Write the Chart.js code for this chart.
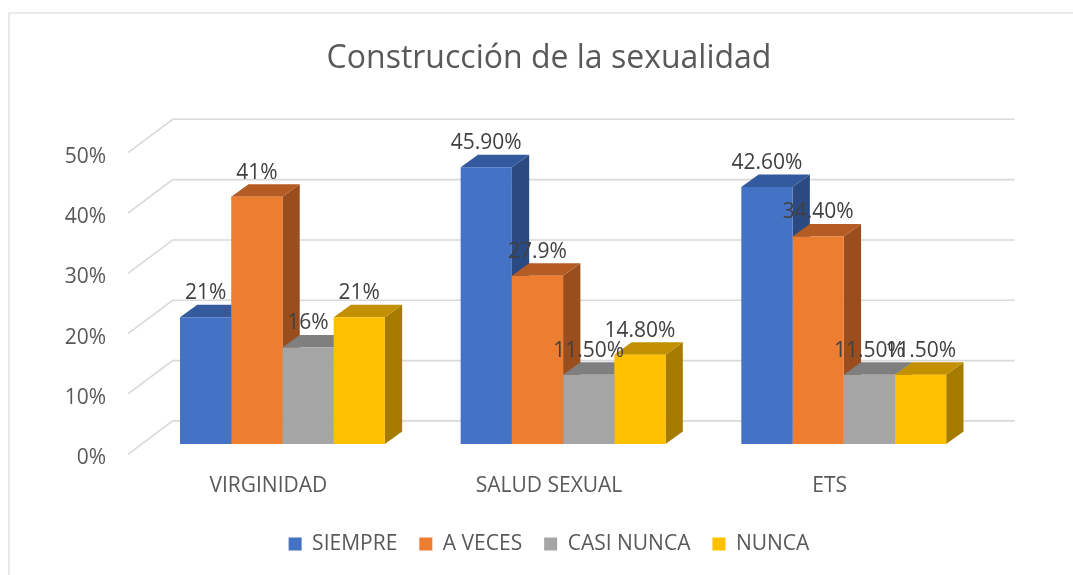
<!DOCTYPE html>
<html><head><meta charset="utf-8">
<script src="https://cdn.jsdelivr.net/npm/chart.js@4.4.1/dist/chart.umd.min.js"></script>
<style>html,body{margin:0;padding:0;background:#fff;}canvas{display:block;}</style>
</head><body>
<canvas id="c" width="1073" height="575"></canvas>
<script>
// ---- data ----
const categories = ['VIRGINIDAD', 'SALUD SEXUAL', 'ETS'];
const seriesNames = ['SIEMPRE', 'A VECES', 'CASI NUNCA', 'NUNCA'];
const siempre   = [21, 45.9, 42.6];
const aVeces    = [41, 27.9, 34.4];
const casiNunca = [16, 11.5, 11.5];
const nunca     = [21, 14.8, 11.5];
const siempreLabels   = ['21%', '45.90%', '42.60%'];
const aVecesLabels    = ['41%', '27.9%', '34.40%'];
const casiNuncaLabels = ['16%', '11.50%', '11.50%'];
const nuncaLabels     = ['21%', '14.80%', '11.50%'];
const yTickLabels = ['0%', '10%', '20%', '30%', '40%', '50%'];

// ---- styles ----
const frontColors = ['#4472C4', '#ED7D31', '#A5A5A5', '#FFC000'];
const topColors   = ['#325A9C', '#B45C24', '#7F7F7F', '#C29000'];
const sideColors  = ['#2C4A82', '#9A4E1E', '#6E6E6E', '#A67C00'];
const FONT = 'Open Sans';
const WALL_DX = 44.7, WALL_DY = -33.4;   // floor depth
const OFF_X = 14.1, OFF_Y = -10.3;       // bar front offset into the floor
const BAR_DX = 17.3, BAR_DY = -12.5;     // bar depth

const seriesValues = [siempre, aVeces, casiNunca, nunca];
const seriesLabels = [siempreLabels, aVecesLabels, casiNuncaLabels, nuncaLabels];

function barRects(chart) {
  const out = [];
  chart.data.datasets.forEach((ds, di) => {
    const meta = chart.getDatasetMeta(di);
    meta.data.forEach((bar, i) => {
      const p = bar.getProps(['x', 'y', 'base', 'width'], true);
      out.push({di, i,
        l: p.x - p.width / 2 + OFF_X, r: p.x + p.width / 2 + OFF_X,
        t: p.y + OFF_Y, b: p.base + OFF_Y, cx: p.x + OFF_X});
    });
  });
  out.sort((a, b) => a.l - b.l);   // left to right (painter's order)
  return out;
}

const plugin3d = {
  id: 'bars3d',
  beforeDraw(chart) {
    const ctx = chart.ctx;
    ctx.save();
    ctx.strokeStyle = '#D9D9D9';
    ctx.lineWidth = 1.2;
    ctx.beginPath();
    ctx.moveTo(9, 575); ctx.lineTo(9, 13); ctx.lineTo(1073, 13);
    ctx.stroke();
    ctx.restore();
  },
  beforeDatasetsDraw(chart) {
    const {ctx, chartArea: a, scales: {y}} = chart;
    ctx.save();
    ctx.strokeStyle = '#D9D9D9';
    ctx.lineWidth = 1.6;
    y.ticks.forEach(t => {
      const py = y.getPixelForValue(t.value);
      ctx.beginPath();
      ctx.moveTo(a.left, py);
      ctx.lineTo(a.left + WALL_DX, py + WALL_DY);
      ctx.lineTo(a.right + WALL_DX, py + WALL_DY);
      ctx.stroke();
    });
    barRects(chart).forEach(q => {
      ctx.fillStyle = sideColors[q.di];
      ctx.beginPath();
      ctx.moveTo(q.r, q.t); ctx.lineTo(q.r + BAR_DX, q.t + BAR_DY);
      ctx.lineTo(q.r + BAR_DX, q.b + BAR_DY); ctx.lineTo(q.r, q.b);
      ctx.closePath(); ctx.fill();
      ctx.fillStyle = topColors[q.di];
      ctx.beginPath();
      ctx.moveTo(q.l, q.t); ctx.lineTo(q.l + BAR_DX, q.t + BAR_DY);
      ctx.lineTo(q.r + BAR_DX, q.t + BAR_DY); ctx.lineTo(q.r, q.t);
      ctx.closePath(); ctx.fill();
    });
    ctx.restore();
    ctx.save();
    ctx.translate(OFF_X, OFF_Y);
  },
  afterDatasetsDraw(chart) {
    const ctx = chart.ctx;
    ctx.restore();
    ctx.save();
    ctx.fillStyle = '#404040';
    ctx.font = '21px "' + FONT + '"';
    ctx.textAlign = 'center';
    ctx.textBaseline = 'middle';
    barRects(chart).forEach(q => {
      ctx.fillText(seriesLabels[q.di][q.i], q.cx, q.t - 24);
    });
    ctx.restore();
  }
};

function draw() {
  new Chart(document.getElementById('c'), {
    type: 'bar',
    data: {
      labels: categories,
      datasets: seriesNames.map((name, k) => ({
        label: name,
        data: seriesValues[k],
        backgroundColor: frontColors[k],
        borderWidth: 0,
        categoryPercentage: 0.73,
        barPercentage: 1,
        clip: false
      }))
    },
    options: {
      responsive: false,
      animation: false,
      events: [],
      layout: {padding: {left: 0, right: 103, top: 0, bottom: 10.5}},
      plugins: {
        title: {
          display: true, fullSize: false, text: 'Construcción de la sexualidad', color: '#595959',
          font: {family: FONT, size: 32, weight: 'normal'}, padding: {top: 39.8, bottom: 74.5}
        },
        legend: {
          position: 'bottom', fullSize: false,
          labels: {boxWidth: 13, boxHeight: 13, color: '#595959',
                   font: {family: FONT, size: 21}, padding: 22}
        },
        tooltip: {enabled: false}
      },
      scales: {
        x: {
          grid: {display: false, drawTicks: false}, border: {display: false},
          ticks: {color: '#595959', font: {family: FONT, size: 21}, padding: 19},
          afterFit(s) { s.height = 57.2; }
        },
        y: {
          min: 0, max: 50,
          grid: {display: false, drawTicks: false}, border: {display: false},
          ticks: {stepSize: 10, color: '#595959', font: {family: FONT, size: 21}, padding: 22,
                  labelOffset: 4, callback: (v, i) => yTickLabels[i]},
          afterFit(s) { s.width = 128; }
        }
      }
    },
    plugins: [plugin3d]
  });
}
if (document.fonts && document.fonts.load) {
  document.fonts.load('21px "' + FONT + '"').then(draw, draw);
} else { draw(); }
</script>
</body></html>
